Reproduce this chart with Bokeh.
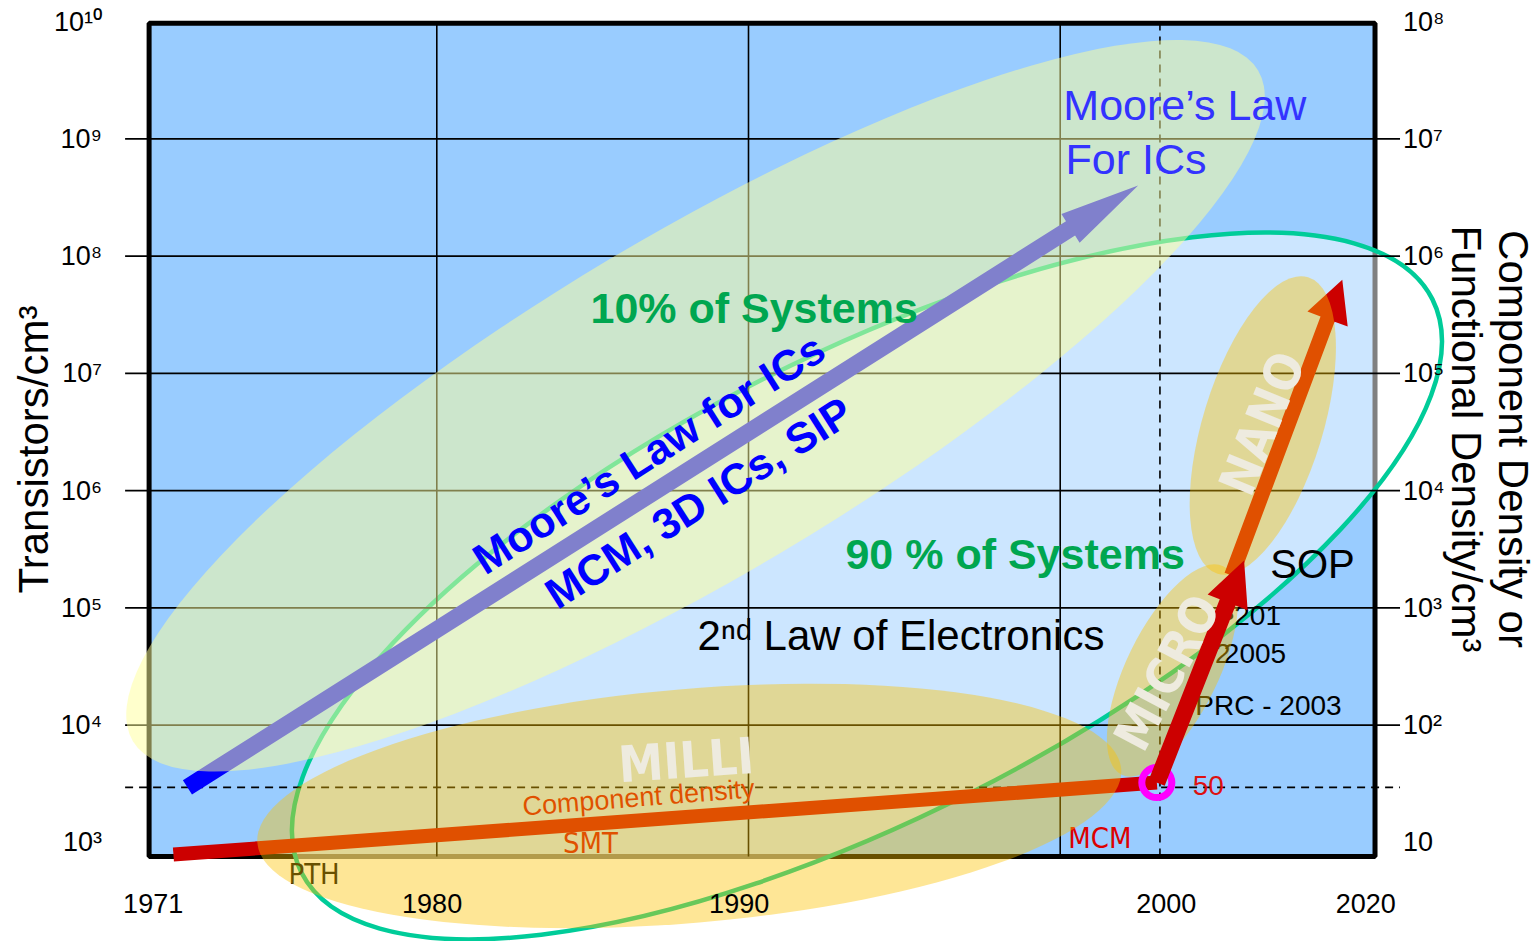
import numpy as np
from bokeh.plotting import figure
from bokeh.models import LinearAxis, FixedTicker, Range1d
from bokeh.core.properties import value
from bokeh.embed import file_html
from bokeh.resources import INLINE

# ---------------- data ----------------
LEFT_DECADES = [3, 4, 5, 6, 7, 8, 9, 10]
LEFT_LABELS = ["10³", "10⁴", "10⁵", "10⁶", "10⁷", "10⁸", "10⁹", "10¹⁰"]
RIGHT_DECADES = [1, 2, 3, 4, 5, 6, 7, 8]
RIGHT_LABELS = ["10", "10²", "10³", "10⁴", "10⁵", "10⁶", "10⁷", "10⁸"]
X_TICKS = [1970.9, 1979.85, 1989.7, 2003.4, 2009.8]   # irregular timeline of the original
X_LABELS = ["1971", "1980", "1990", "2000", "2020"]
GRID_YEARS = [1980, 1990, 2000]
DASH_YEAR = 2003.2
GRID_DECADES = [4, 5, 6, 7, 8, 9]
DASH_LEVEL = 2950
BOX_YEARS = [1970.77, 2010.1]
BOX_LEVELS = [760, 9.7e9]

# arrows: start year, start value, end year, end value
MOORE = [1972.0, 2950, 2002.5, 4.0e8]
COMPONENT = [1971.55, 790, 2003.1, 3240]
MICRO_ARROW = [2003.1, 3240, 2005.9, 2.54e5]
NANO_ARROW = [2005.5, 1.9e5, 2009.05, 6.3e7]
MCM_POINT = [2003.1, 3240]

# ellipses: centre year, centre value
TEAL_C = [1993.8, 1.54e5]
GREEN_C = [1988.3, 5.3e6]
MILLI_C = [1988.1, 2050]
MICRO_C = [2003.6, 2.93e4]
NANO_C = [2006.5, 3.6e6]

# text annotations: year, value, text
BIG_BLUE = [(2000.1, 1.93e9, "Moore’s Law"), (2000.17, 6.68e8, "For ICs")]
GREEN_TXT = [(1984.93, 3.65e7, "10% of Systems"), (1993.11, 2.86e5, "90 % of Systems")]
DIAG_TXT = [(1986.8, 2.07e6, "Moore’s Law for ICs"), (1988.4, 7.9e5, "MCM, 3D ICs, SIP")]
LAW_TXT = (1988.36, 5.82e4, "2ⁿᵈ Law of Electronics")
SOP_TXT = (2006.74, 2.39e5, "SOP")
YEAR_NOTES = [(2005.27, 8.62e4, "•201"), (2004.65, 4.09e4, "•2"), (2005.25, 4.09e4, "2005"),
              (2004.02, 1.47e4, "•PRC - 2003")]
FIFTY = (2004.25, 3060, "50")
MCM_TXT = (2000.26, 1100, "MCM")
SMT_TXT = (1984.93, 980, "SMT")
PTH_TXT = (1975.24, 533, "PTH")
COMP_TXT = (1986.47, 2420, "Component density")
SCALE_TXT = [(1988.0, 5000, "MILLI", 4), (2003.44, 2.81e4, "MICRO", 62), (2006.49, 3.74e6, "NANO", 68)]

# ---------------- geometry helpers ----------------
W, H = 1537, 941
PX_PER_YEAR, PX_PER_DECADE = 31.17, 117.25
X0 = 1980 - 436.3 / PX_PER_YEAR
X1 = X0 + W / PX_PER_YEAR
Y1 = 4 + 724.7 / PX_PER_DECADE
Y0 = Y1 - H / PX_PER_DECADE

def sx(x): return (x - X0) / (X1 - X0) * W
def sy(ly): return (Y1 - ly) / (Y1 - Y0) * H
def dx(px): return X0 + px / W * (X1 - X0)
def dy(py): return Y1 - py / H * (Y1 - Y0)
L10 = np.log10

def arrow_poly(spec, shaft, head_len, head_w):
    x0, v0, x1, v1 = spec
    A = np.array([sx(x0), sy(L10(v0))]); B = np.array([sx(x1), sy(L10(v1))])
    u = (B - A) / np.hypot(*(B - A)); n = np.array([-u[1], u[0]])
    Bb = B - u * head_len
    pts = [A + n * shaft / 2, Bb + n * shaft / 2]
    if head_len > 0:
        pts += [Bb + n * head_w / 2, B, Bb - n * head_w / 2]
    pts += [Bb - n * shaft / 2, A - n * shaft / 2]
    return [dx(p[0]) for p in pts], [dy(p[1]) for p in pts]

# ---------------- figure ----------------
p = figure(width=W, height=H, x_range=Range1d(X0, X1), y_range=Range1d(Y0, Y1),
           x_axis_type=None, y_axis_type=None, toolbar_location=None,
           output_backend="svg", min_border=0, outline_line_color=None)
p.extra_y_ranges = {"right": Range1d(Y0 - 2, Y1 - 2)}
p.background_fill_color = "white"
p.border_fill_color = "white"

FONT = value("Liberation Sans")
NARROW = value("Liberation Sans Narrow, DejaVu Sans Condensed, Liberation Sans, sans-serif")

bx0, bx1 = BOX_YEARS
by0, by1 = L10(BOX_LEVELS[0]), L10(BOX_LEVELS[1])
xl_ext = dx(sx(bx0) - 24)
xr_ext = dx(sx(bx1) + 25)

def txt(items, size, color, align="left", style="normal", font=FONT, angle=0):
    p.text(x=[t[0] for t in items], y=[L10(t[1]) for t in items], text=[t[2] for t in items],
           text_font=font, text_font_size=size, text_font_style=style, text_color=color,
           text_align=align, text_baseline="middle", angle=angle, angle_units="deg")

# box
p.quad(left=[bx0], right=[bx1], bottom=[by0], top=[by1], fill_color="#99ccff",
       line_color="black", line_width=5)
# light teal-outlined ellipse (90% of systems)
p.ellipse(x=[TEAL_C[0]], y=[L10(TEAL_C[1])], width=1268, height=463, angle=26.9,
          angle_units="deg", width_units="screen", height_units="screen",
          fill_color="white", fill_alpha=0.5, line_color="#00cc99", line_width=4.5)
# grid lines
p.segment(x0=[xl_ext] * len(GRID_DECADES), y0=GRID_DECADES, x1=[xr_ext] * len(GRID_DECADES),
          y1=GRID_DECADES, line_color="black", line_width=1.8)
p.segment(x0=GRID_YEARS, y0=[by0] * 3, x1=GRID_YEARS, y1=[by1] * 3, line_color="black",
          line_width=1.6)
p.segment(x0=[DASH_YEAR], y0=[by0], x1=[DASH_YEAR], y1=[by1], line_color="black",
          line_width=1.6, line_dash="8 6")
p.segment(x0=[xl_ext], y0=[L10(DASH_LEVEL)], x1=[xr_ext], y1=[L10(DASH_LEVEL)],
          line_color="black", line_width=1.6, line_dash="8 6")
# Moore's law arrow (under the green ellipse)
xs, ys = arrow_poly(MOORE, 17, 80, 34)
p.patch(xs, ys, fill_color="#0000ff", line_color=None)
# big green ellipse (10% of systems)
p.ellipse(x=[GREEN_C[0]], y=[L10(GREEN_C[1])], width=1310, height=340, angle=30.8,
          angle_units="deg", width_units="screen", height_units="screen",
          fill_color="#ffff99", fill_alpha=0.5, line_color=None)

# texts lying under the MILLI ellipse
txt([PTH_TXT], "29px", "black", font=NARROW)
txt([SMT_TXT], "29px", "#cc0000", align="center", font=NARROW)
txt([MCM_TXT], "29px", "#dd0000", font=NARROW)
txt([COMP_TXT], "27px", "#cc0000", align="center", angle=4.5)
# component density bar
xs, ys = arrow_poly(COMPONENT, 14, 0, 0)
p.patch(xs, ys, fill_color="#cc0000", line_color=None)
# MILLI ellipse
YEL, YEL_A = "#fdc300", 0.41
p.ellipse(x=[MILLI_C[0]], y=[L10(MILLI_C[1])], width=867, height=234, angle=4.9,
          angle_units="deg", width_units="screen", height_units="screen",
          fill_color=YEL, fill_alpha=YEL_A, line_color=None)
# year notes (under MICRO ellipse)
txt(YEAR_NOTES, "28px", "black")
# MICRO ellipse
p.ellipse(x=[MICRO_C[0]], y=[L10(MICRO_C[1])], width=232, height=92, angle=64,
          angle_units="deg", width_units="screen", height_units="screen",
          fill_color=YEL, fill_alpha=YEL_A, line_color=None)
# NANO arrow and ellipse
xs, ys = arrow_poly(NANO_ARROW, 15, 42, 43)
p.patch(xs, ys, fill_color="#cc0000", line_color=None)
p.ellipse(x=[NANO_C[0]], y=[L10(NANO_C[1])], width=310, height=120, angle=73,
          angle_units="deg", width_units="screen", height_units="screen",
          fill_color=YEL, fill_alpha=YEL_A, line_color=None)
# MCM point
p.scatter(x=[MCM_POINT[0]], y=[L10(MCM_POINT[1])], marker="circle", size=30,
          fill_color=None, line_color="#ff00ff", line_width=7)
# MICRO arrow
xs, ys = arrow_poly(MICRO_ARROW, 17, 45, 43)
p.patch(xs, ys, fill_color="#cc0000", line_color=None)

# scale words
for (yr, v, t, ang) in SCALE_TXT:
    txt([(yr, v, t)], "50px", "#eeebdf", align="center", style="bold", font=NARROW, angle=ang)

# top texts
txt(BIG_BLUE, "43px", "#3333ff")
txt(GREEN_TXT, "43px", "#00a650", style="bold")
txt(DIAG_TXT, "43px", "#0000ff", align="center", style="bold", angle=32.5)
txt([LAW_TXT], "42px", "black")
txt([SOP_TXT], "40px", "black")
txt([FIFTY], "28px", "#dd1111")

# ---------------- axes ----------------
def style_axis(ax, standoff):
    ax.axis_line_color = None
    ax.major_tick_line_color = None
    ax.minor_tick_line_color = None
    ax.major_tick_in = 0
    ax.major_tick_out = 0
    ax.major_label_standoff = standoff
    ax.major_label_text_font = "Liberation Sans"
    ax.major_label_text_font_size = "27px"
    ax.major_label_text_color = "black"
    ax.axis_label_text_font = "Liberation Sans"
    ax.axis_label_text_font_size = "42px"
    ax.axis_label_text_font_style = "normal"
    ax.axis_label_text_color = "black"
    ax.axis_label_text_line_height = 1.0

yl = LinearAxis(fixed_location=bx0, ticker=FixedTicker(ticks=LEFT_DECADES),
                major_label_overrides=dict(zip(LEFT_DECADES, LEFT_LABELS)),
                axis_label="Transistors/cm³", bounds=(2.6, 10.1))
style_axis(yl, 47)
yl.axis_label_standoff = -6
p.add_layout(yl, "left")

yr_ax = LinearAxis(fixed_location=bx1, y_range_name="right", ticker=FixedTicker(ticks=RIGHT_DECADES),
                   major_label_overrides=dict(zip(RIGHT_DECADES, RIGHT_LABELS)),
                   axis_label="Component Density or\nFunctional Density/cm³", bounds=(0.7, 8.3))
style_axis(yr_ax, 28)
yr_ax.axis_label_standoff = -5
p.add_layout(yr_ax, "right")

xb = LinearAxis(fixed_location=by0, ticker=FixedTicker(ticks=X_TICKS),
                major_label_overrides=dict(zip(X_TICKS, X_LABELS)))
style_axis(xb, 38)
p.add_layout(xb, "below")

open("out.html", "w").write(file_html(p, INLINE))
